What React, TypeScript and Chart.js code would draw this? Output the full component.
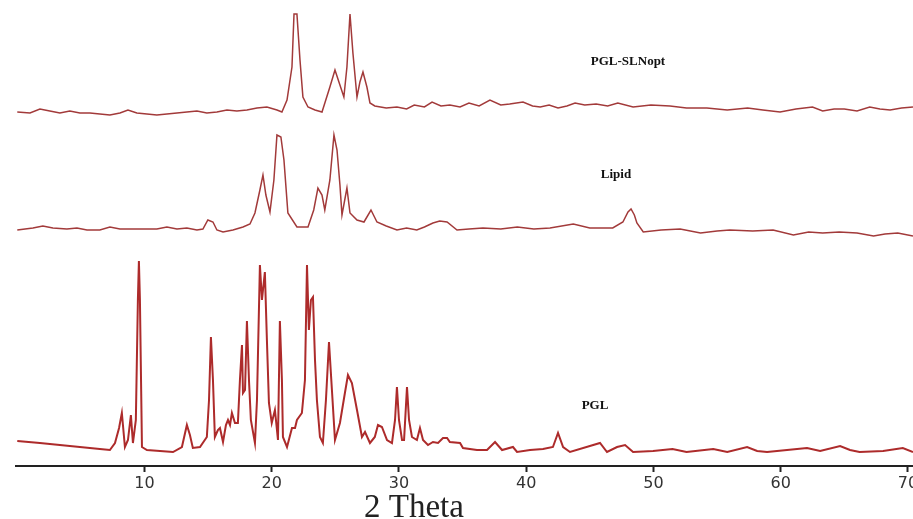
import React, { useEffect, useRef } from "react";
import { Chart, registerables } from "chart.js";

Chart.register(...registerables);

// X axis ticks (2 Theta, degrees)
const X_TICKS = [10, 20, 30, 40, 50, 60, 70];

// PGL-SLNopt pattern
const SLN_THETA = [
  0, 1.0, 1.78, 2.56, 3.35, 4.13, 4.92, 5.71, 6.49, 7.28, 8.07, 8.7, 9.4, 10.19, 10.97, 11.76, 12.55,
  13.33, 14.12, 14.9, 15.69, 16.48, 17.26, 18.05, 18.84, 19.62, 20.41, 20.8,
  21.2, 21.59, 21.75, 21.98, 22.22, 22.45, 22.85, 23.4, 23.95, 24.57, 24.97, 25.28, 25.67, 25.91,
  26.15, 26.38, 26.7, 26.93, 27.17, 27.48, 27.72, 28.1, 29.0, 29.84, 30.6, 31.2, 32.0, 32.6, 33.3,
  34.0, 34.8, 35.5, 36.3, 37.15, 38.0, 38.7, 39.75, 40.5, 41.1, 41.8, 42.5, 43.2, 43.84, 44.6,
  45.5, 46.4, 47.2, 48.4, 49.8, 51.3, 52.6, 54.2, 55.8, 57.4, 58.6, 59.95, 61.2, 62.5, 63.3, 64.2,
  65.0, 66.0, 67.0, 67.8, 68.6, 69.5, 70.4,
];
const SLN_INT = [
  -2, -3, 1, -1, -3, -1, -3, -3, -4, -5, -3, 0, -3, -4, -5, -4, -3,
  -2, -1, -3, -2, 0, -1, 0, 2, 3, 0, -2,
  10, 43, 96, 96, 50, 13, 3, 0, -2, 23, 40, 28, 13, 43,
  96, 57, 13, 28, 38, 23, 7, 4, 2, 3, 1, 5, 3, 8, 4,
  5, 3, 7, 4, 10, 5, 6, 8, 4, 3, 5, 2, 4, 7, 5,
  6, 4, 7, 3, 5, 4, 2, 2, 0, 2, 0, -2, 1, 3, -1, 1,
  1, -1, 3, 1, 0, 2, 3,
];

// Lipid pattern
const LIPID_THETA = [
  0, 1.23, 2.01, 2.8, 3.9, 4.69, 5.48, 6.49, 7.28, 8.07, 9.09, 9.87, 10.97, 11.76, 12.55, 13.33,
  14.12, 14.59, 14.98, 15.38, 15.69, 16.17, 16.95, 17.74, 18.29, 18.68,
  19.07, 19.31, 19.54, 19.86, 20.17, 20.41, 20.72, 20.96, 21.27, 21.98, 22.85, 23.3, 23.63, 23.95,
  24.17, 24.57, 24.89, 25.13, 25.36, 25.52, 25.91, 26.15, 26.7, 27.25, 27.8, 28.27, 29.0, 29.84,
  30.6, 31.4, 32.0, 32.67, 33.2, 33.78, 34.56, 35.5, 36.6, 38.0, 39.3, 40.6, 41.87, 43.7, 45.0,
  46.8, 47.6, 48.0, 48.24, 48.5, 48.7, 49.2, 50.6, 52.1, 53.7, 55.0, 56.0, 57.8, 59.4, 61.0,
  62.2, 63.3, 64.6, 66.0, 67.3, 68.2, 69.2, 70.4,
];
const LIPID_INT = [
  -1, 1, 3, 1, 0, 1, -1, -1, 2, 0, 0, 0, 0, 2, 0, 1,
  -1, 0, 9, 7, -1, -3, -1, 2, 5, 16,
  39, 54, 34, 17, 49, 94, 92, 69, 16, 2, 2, 19, 41, 34,
  19, 49, 94, 79, 44, 14, 41, 16, 9, 7, 19, 7, 3, -1,
  1, -1, 2, 6, 8, 7, -1, 0, 1, 0, 2, 0, 1, 5, 1,
  1, 7, 17, 20, 14, 6, -3, -1, 0, -4, -2, -1, -2, -1, -6,
  -3, -4, -3, -4, -7, -5, -4, -7,
];

// PGL pattern
const PGL_THETA = [
  0, 1.78, 4.13, 6.49, 7.28, 7.68, 8.0, 8.22, 8.46, 8.7, 8.93, 9.09, 9.32, 9.48, 9.56, 9.64, 9.8,
  10.19, 12.24, 12.94, 13.33, 13.57, 13.8, 14.36, 14.9, 15.07, 15.22, 15.38, 15.53, 15.77, 15.93,
  16.17, 16.4, 16.56, 16.72, 16.87, 17.11, 17.34, 17.5, 17.66, 17.74, 17.9, 18.05, 18.21, 18.36,
  18.68, 18.84, 19.07, 19.23, 19.46, 19.62, 19.78, 20.0, 20.25, 20.49, 20.64, 20.8, 20.88, 21.2,
  21.59, 21.83, 21.98, 22.37, 22.61, 22.77, 22.92, 23.08, 23.24, 23.4, 23.55, 23.79, 24.02, 24.26,
  24.5, 24.73, 24.97, 25.36, 25.75, 25.99, 26.3, 26.7, 27.09, 27.33, 27.72, 28.1, 28.35, 28.66,
  29.06, 29.45, 29.69, 29.84, 30.0, 30.24, 30.4, 30.63, 30.79, 31.02, 31.41, 31.65, 31.89, 32.28,
  32.67, 33.07, 33.46, 33.78, 34.0, 34.8, 35.03, 36.13, 36.92, 37.55, 38.1, 38.96, 39.28, 40.3,
  41.32, 42.1, 42.5, 42.9, 43.44, 45.8, 46.35, 47.14, 47.77, 48.4, 49.97, 51.5, 52.6, 54.7, 55.8,
  57.36, 58.15, 58.93, 60.5, 62.07, 63.1, 64.67, 65.45, 66.2, 68.05, 69.6, 70.4,
];
const PGL_INT = [
  11, 9, 6, 3, 2, 9, 24, 39, 5, 12, 37, 9, 32, 152, 191, 152, 5,
  2, 0, 5, 27, 17, 4, 5, 15, 52, 115, 72, 15, 22, 24,
  10, 27, 32, 27, 39, 29, 29, 72, 107, 59, 62, 131, 72, 32,
  9, 52, 187, 152, 180, 112, 49, 29, 42, 12, 131, 72, 15, 5,
  24, 24, 32, 39, 72, 187, 122, 152, 155, 92, 52, 15, 9, 52,
  110, 62, 12, 29, 59, 77, 69, 42, 15, 20, 9, 15, 27, 25,
  12, 9, 32, 65, 32, 12, 12, 65, 32, 15, 12, 24, 12, 7,
  10, 9, 14, 14, 10, 9, 4, 2, 2, 10, 2, 5, 0, 2,
  3, 5, 19, 5, 0, 9, 0, 5, 7, 0, 1, 3, 0, 3, 0,
  5, 1, 0, 2, 4, 1, 6, 2, 0, 1, 4, 0,
];

// vertical offsets used to stack the patterns
const PGL_OFFSET = 14;
const LIPID_OFFSET = 237;
const SLN_OFFSET = 356;

const SERIES_NAMES = ["PGL-SLNopt", "Lipid", "PGL"];

function build(theta: number[], inten: number[], offset: number) {
  return theta.map((t, i) => ({ x: t, y: inten[i] + offset }));
}

export default function App() {
  const ref = useRef<HTMLCanvasElement>(null);

  useEffect(() => {
    if (!ref.current) return;
    const labelsPlugin = {
      id: "xrdLabels",
      afterDraw(chart: any) {
        const ctx = chart.ctx;
        ctx.save();
        ctx.fillStyle = "#111";
        ctx.textAlign = "center";
        ctx.textBaseline = "alphabetic";
        ctx.font = "bold 13px 'Liberation Serif', serif";
        ctx.fillText(SERIES_NAMES[0], 628, 65);
        ctx.fillText(SERIES_NAMES[1], 616, 178);
        ctx.fillText(SERIES_NAMES[2], 595, 409);
        ctx.font = "33px 'Liberation Serif', serif";
        ctx.fillStyle = "#222";
        ctx.fillText("2 Theta", 414, 517);
        ctx.restore();
      },
    };

    const chart = new Chart(ref.current, {
      type: "line",
      data: {
        datasets: [
          {
            label: SERIES_NAMES[0],
            data: build(SLN_THETA, SLN_INT, SLN_OFFSET),
            borderColor: "#a23a3a",
            borderWidth: 1.5,
            pointRadius: 0,
            tension: 0,
          },
          {
            label: SERIES_NAMES[1],
            data: build(LIPID_THETA, LIPID_INT, LIPID_OFFSET),
            borderColor: "#a23a3a",
            borderWidth: 1.5,
            pointRadius: 0,
            tension: 0,
          },
          {
            label: SERIES_NAMES[2],
            data: build(PGL_THETA, PGL_INT, PGL_OFFSET),
            borderColor: "#ad2b2b",
            borderWidth: 2,
            pointRadius: 0,
            tension: 0,
          },
        ],
      },
      options: {
        animation: false,
        responsive: false,
        devicePixelRatio: 1,
        layout: { padding: { left: 16, right: 0, top: 0, bottom: 0 } },
        plugins: { legend: { display: false }, tooltip: { enabled: false } },
        scales: {
          x: {
            type: "linear",
            min: -0.1,
            max: 70.4,
            afterBuildTicks: (s: any) => {
              s.ticks = X_TICKS.map((v) => ({ value: v }));
            },
            afterFit: (s: any) => {
              s.height = 53;
              s.paddingLeft = 0;
              s.paddingRight = 0;
            },
            grid: {
              display: true,
              drawOnChartArea: false,
              drawTicks: true,
              tickLength: 6,
              tickWidth: 2,
              tickColor: "#222",
            },
            border: { display: true, color: "#222", width: 2 },
            ticks: {
              padding: 2,
              color: "#333",
              font: { family: "'DejaVu Sans', sans-serif", size: 16 },
              maxRotation: 0,
            },
          },
          y: { display: false, min: 0, max: 466 },
        },
      },
      plugins: [labelsPlugin],
    });
    return () => chart.destroy();
  }, []);

  return (
    <div style={{ position: "absolute", left: 0, top: 0, width: 913, height: 519, background: "#fff" }}>
      <canvas ref={ref} width={913} height={519} style={{ display: "block" }} />
    </div>
  );
}
